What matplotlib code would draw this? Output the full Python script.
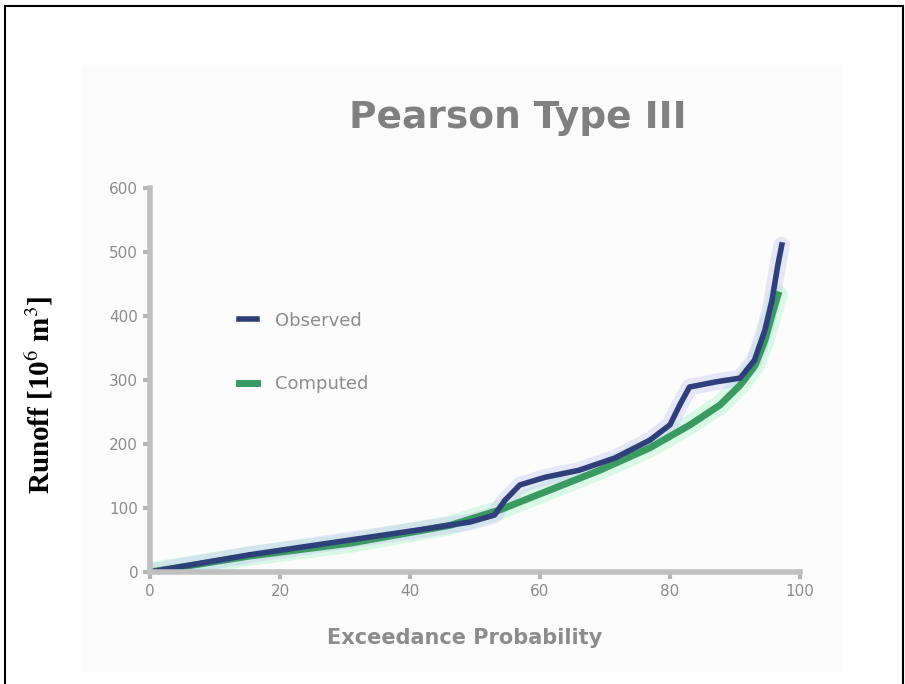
import matplotlib
matplotlib.use("Agg")
import matplotlib.pyplot as plt
from matplotlib.patches import Rectangle

# exceedance probability (%) and runoff (10^6 m^3)
obs_p = [0, 15.4, 30.8, 41.5, 49.2, 53.0, 54.6, 56.9, 60.8, 66.0, 71.5, 76.9,
         80.0, 81.5, 83.0, 87.0, 90.8, 93.0, 94.6, 95.7, 96.6, 97.2]
obs_q = [0, 27, 50, 66, 78, 89, 112, 136, 148, 159, 178, 206,
         230, 261, 289, 297, 303, 331, 378, 425, 480, 511]

fit_p = [0, 15.4, 30.8, 46.2, 53.8, 61.5, 69.2, 76.9, 83.1, 87.7, 90.8,
         93.1, 94.6, 95.7, 96.6]
fit_q = [0, 25, 45, 73, 97, 128, 159, 194, 230, 261, 292, 323, 362, 402, 433]

xticks = [0, 20, 40, 60, 80, 100]
yticks = [0, 100, 200, 300, 400, 500, 600]

W, H = 905, 684
fig = plt.figure(figsize=(W / 100, H / 100), dpi=100)
fig.patch.set_facecolor("white")

# outer frame
fig.patches.append(Rectangle((5 / W, -0.02), 898 / W, 1.02 - 6 / H,
                             transform=fig.transFigure, fill=False,
                             edgecolor="black", linewidth=1.5, zorder=5))
# faint panel behind the chart
fig.patches.append(Rectangle((81 / W, 1 - 672 / H), 762 / W, 607 / H,
                             transform=fig.transFigure, facecolor="#fcfcfc",
                             edgecolor="none", zorder=-1))

ax = fig.add_axes([150 / W, 1 - 572 / H, 650 / W, 384 / H])
ax.set_facecolor("none")

grey = "#8c8c8c"
# soft halos under the curves
ax.plot(fit_p, fit_q, color="#b8f5cf", lw=14, alpha=0.5, solid_capstyle="round")
ax.plot(obs_p, obs_q, color="#c9ccf5", lw=12, alpha=0.45, solid_capstyle="round")
ax.plot(fit_p, fit_q, color="#3a9a62", lw=5, label="Computed")
ax.plot(obs_p, obs_q, color="#2f3f7a", lw=4, label="Observed")

ax.set_xlim(0, 100)
ax.set_ylim(0, 600)
ax.set_xticks(xticks)
ax.set_yticks(yticks)
ax.tick_params(colors="#b5b5b5", labelcolor=grey, labelsize=11, width=3,
               length=5, direction="out")
for s in ["top", "right"]:
    ax.spines[s].set_visible(False)
for s in ["left", "bottom"]:
    ax.spines[s].set_color("#c0c0c0")
    ax.spines[s].set_linewidth(4)

h, l = ax.get_legend_handles_labels()
leg = ax.legend(h[::-1], l[::-1], loc="upper left", bbox_to_anchor=(0.112, 0.72),
                frameon=False, fontsize=13, labelcolor=grey, handlelength=1.0,
                labelspacing=2.5, handletextpad=1.0)

fig.text(518 / W, 1 - 118 / H, "Pearson Type III", ha="center", va="center",
         fontsize=27, fontweight="bold", color="#808080")
fig.text(465 / W, 1 - 638 / H, "Exceedance Probability", ha="center",
         va="center", fontsize=15, fontweight="bold", color=grey)
fig.text(40 / W, 1 - 395 / H, "Runoff [10$^6$ m$^3$]", rotation=90,
         ha="center", va="center", fontsize=21, fontweight="bold",
         family="Liberation Serif", math_fontfamily="stix")

fig.savefig("out.png", dpi=100)
